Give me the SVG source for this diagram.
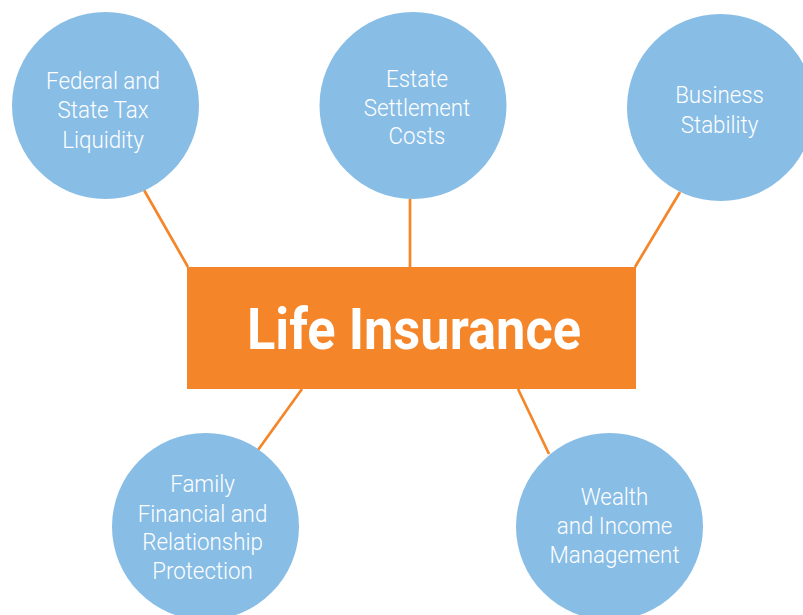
<svg xmlns="http://www.w3.org/2000/svg" width="803" height="615" viewBox="0 0 803 615">
<style>
.c{fill:#88BDE6}
.l{stroke:#F48629;stroke-width:2.7;fill:none}
.t{font-family:Roboto,"Liberation Sans",sans-serif;font-size:24px;font-weight:300;fill:#fff;text-anchor:middle}
.h{font-family:Roboto,"Liberation Sans",sans-serif;font-size:57px;font-weight:bold;fill:#fff;text-anchor:middle}
</style>
<rect width="803" height="615" fill="#fff"/>
<g id="connectors">
<line class="l" x1="144" y1="190" x2="188" y2="267"/>
<line class="l" x1="410" y1="199" x2="410" y2="267"/>
<line class="l" x1="680" y1="192" x2="635" y2="267"/>
<line class="l" x1="302" y1="389" x2="258" y2="450"/>
<line class="l" x1="518" y1="389" x2="549" y2="454"/>
</g>
<g id="center">
<rect x="187" y="267" width="449" height="122" fill="#F48629"/>
<text class="h" transform="translate(414,349) scale(0.92,1)">Life Insurance</text>
</g>
<g id="n1">
<circle class="c" cx="105.5" cy="105.5" r="93.5"/>
<text class="t" transform="translate(103,89) scale(0.93,1)">Federal and</text>
<text class="t" transform="translate(103,118) scale(0.93,1)">State Tax</text>
<text class="t" transform="translate(103,148) scale(0.93,1)">Liquidity</text>
</g>
<g id="n2">
<circle class="c" cx="413" cy="105.5" r="93.5"/>
<text class="t" transform="translate(417,87) scale(0.93,1)">Estate</text>
<text class="t" transform="translate(417,116) scale(0.93,1)">Settlement</text>
<text class="t" transform="translate(417,144) scale(0.93,1)">Costs</text>
</g>
<g id="n3">
<circle class="c" cx="720.5" cy="107.5" r="93.5"/>
<text class="t" transform="translate(719.5,103) scale(0.93,1)">Business</text>
<text class="t" transform="translate(719.5,133) scale(0.93,1)">Stability</text>
</g>
<g id="n4">
<circle class="c" cx="205.5" cy="526.5" r="93.5"/>
<text class="t" transform="translate(202.5,492) scale(0.93,1)">Family</text>
<text class="t" transform="translate(202.5,522) scale(0.93,1)">Financial and</text>
<text class="t" transform="translate(202.5,550) scale(0.93,1)">Relationship</text>
<text class="t" transform="translate(202.5,579) scale(0.93,1)">Protection</text>
</g>
<g id="n5">
<circle class="c" cx="609.5" cy="526.5" r="93.5"/>
<text class="t" transform="translate(614.5,505) scale(0.93,1)">Wealth</text>
<text class="t" transform="translate(614.5,534) scale(0.93,1)">and Income</text>
<text class="t" transform="translate(614.5,563) scale(0.93,1)">Management</text>
</g>
</svg>
